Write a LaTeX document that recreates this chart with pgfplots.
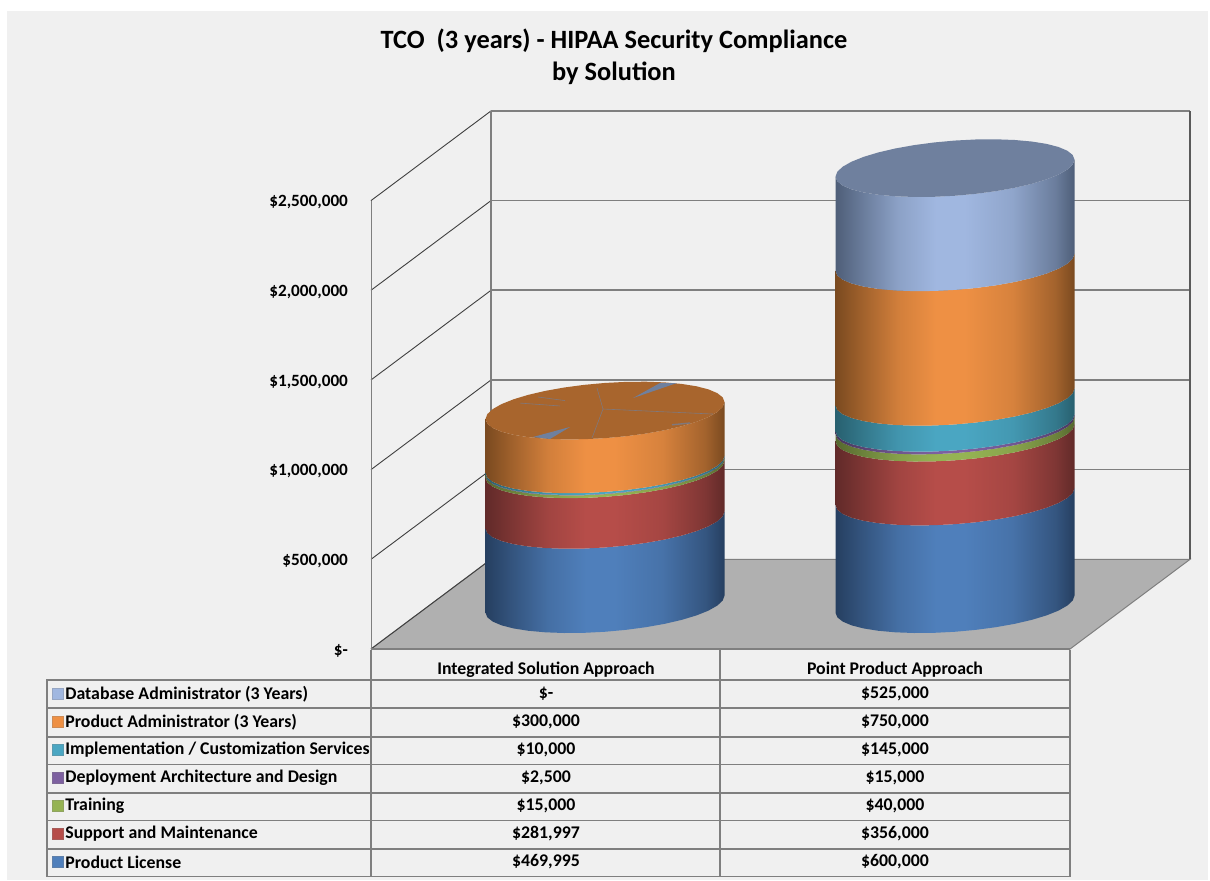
\documentclass[border=0pt]{standalone}
\usepackage{fontspec}
\usepackage{pgfplots}
\usepackage{pgfplotstable}
\pgfplotsset{compat=1.18}
\setmainfont{Carlito}
\definecolor{panel}{HTML}{F0F0F0}
\definecolor{gridc}{HTML}{7F7F7F}
\definecolor{cBlue}{HTML}{4F7FBB}\definecolor{dBlue}{HTML}{263F60}
\definecolor{cRed}{HTML}{B64D49}\definecolor{dRed}{HTML}{612A29}
\definecolor{cGreen}{HTML}{95B353}\definecolor{dGreen}{HTML}{56682F}
\definecolor{cPurple}{HTML}{7D60A0}\definecolor{dPurple}{HTML}{47365C}
\definecolor{cTeal}{HTML}{4AA6C2}\definecolor{dTeal}{HTML}{28606F}
\definecolor{cOrange}{HTML}{EE9044}\definecolor{dOrange}{HTML}{7A4A20}
\definecolor{cLight}{HTML}{A0B7E0}\definecolor{dLight}{HTML}{4E5E78}
\definecolor{tOrange}{HTML}{A8652D}
\definecolor{tLight}{HTML}{6F809E}
\newcommand\declshade[1]{%
  \pgfdeclarehorizontalshading{sh#1}{100bp}{color(0bp)=(d#1); color(25bp)=(d#1);
    color(30bp)=(d#1!70!c#1); color(38bp)=(d#1!25!c#1); color(46bp)=(c#1); color(52bp)=(c#1);
    color(62bp)=(d#1!20!c#1); color(71bp)=(d#1!65!c#1); color(75bp)=(d#1); color(100bp)=(d#1)}}
\declshade{Blue}\declshade{Red}\declshade{Green}\declshade{Purple}\declshade{Teal}\declshade{Orange}\declshade{Light}
% unit circle: front half, lower rim (f=0) then upper rim (f=1)
\pgfplotstableread{
c s f
-1 0 0
-0.9848 -0.1736 0
-0.9397 -0.3420 0
-0.8660 -0.5 0
-0.7660 -0.6428 0
-0.6428 -0.7660 0
-0.5 -0.8660 0
-0.3420 -0.9397 0
-0.1736 -0.9848 0
0 -1 0
0.1736 -0.9848 0
0.3420 -0.9397 0
0.5 -0.8660 0
0.6428 -0.7660 0
0.7660 -0.6428 0
0.8660 -0.5 0
0.9397 -0.3420 0
0.9848 -0.1736 0
1 0 0
1 0 1
0.9848 -0.1736 1
0.9397 -0.3420 1
0.8660 -0.5 1
0.7660 -0.6428 1
0.6428 -0.7660 1
0.5 -0.8660 1
0.3420 -0.9397 1
0.1736 -0.9848 1
0 -1 1
-0.1736 -0.9848 1
-0.3420 -0.9397 1
-0.5 -0.8660 1
-0.6428 -0.7660 1
-0.7660 -0.6428 1
-0.8660 -0.5 1
-0.9397 -0.3420 1
-0.9848 -0.1736 1
-1 0 1
}\cylOutline
\pgfplotstableread{
c s
1 0
0.9848 0.1736
0.9397 0.3420
0.8660 0.5
0.7660 0.6428
0.6428 0.7660
0.5 0.8660
0.3420 0.9397
0.1736 0.9848
0 1
-0.1736 0.9848
-0.3420 0.9397
-0.5 0.8660
-0.6428 0.7660
-0.7660 0.6428
-0.8660 0.5
-0.9397 0.3420
-0.9848 0.1736
-1 0
-0.9848 -0.1736
-0.9397 -0.3420
-0.8660 -0.5
-0.7660 -0.6428
-0.6428 -0.7660
-0.5 -0.8660
-0.3420 -0.9397
-0.1736 -0.9848
0 -1
0.1736 -0.9848
0.3420 -0.9397
0.5 -0.8660
0.6428 -0.7660
0.7660 -0.6428
0.8660 -0.5
0.9397 -0.3420
0.9848 -0.1736
}\cylRing
% floor offset of a cylinder's axis, ellipse half height, ellipse tilt (px)
\newcommand\cylOff{250000}
\newcommand\cylB{27.6}
\newcommand\cylT{8.5}
\newcommand\seg[4]{%
  \addplot[draw=none,shading=sh#4] table[x expr={#1+119.5*\thisrow{c}},
    y expr={\cylOff+#2+(#3-#2)*\thisrow{f}+(\cylB*\thisrow{s}+\cylT*\thisrow{c})*5575}] {\cylOutline};}
\newcommand\topcap[3]{%
  \addplot[draw=none,fill=#3] table[x expr={#1+119.5*\thisrow{c}},
    y expr={\cylOff+#2+(\cylB*\thisrow{s}+\cylT*\thisrow{c})*5575}] {\cylRing};}
\newcommand\gridlevel[2]{%
  \addplot[black!75,line width=0.45pt] coordinates {(371,#1) (491,#2)};
  \addplot[gridc,line width=0.8pt] coordinates {(491,#2) (1190,#2)};}
\newcommand\rowtxt[4]{%
  \node[anchor=west,inner xsep=0pt,font=\fontsize{8.9}{9}\selectfont\bfseries] at (axis cs:65,#1) {#2};
  \node[font=\fontsize{8.9}{9}\selectfont\bfseries] at (axis cs:546,#1) {#3};
  \node[font=\fontsize{8.9}{9}\selectfont\bfseries] at (axis cs:895,#1) {#4};}
\newcommand\swatch[3]{%
  \fill[#3,draw=#3!70!gray,line width=0.3pt] (axis cs:52,#1) rectangle (axis cs:63,#2);}
\begin{document}
\begin{tikzpicture}
% page layer, in pixels of the reference
\begin{axis}[at={(0pt,0pt)},anchor=south west,scale only axis,width=605pt,height=440pt,
  xmin=0,xmax=1210,ymin=0,ymax=880,y dir=reverse,hide axis,clip=false]
\fill[white] (axis cs:0,0) rectangle (axis cs:1210,880);
\fill[panel] (axis cs:7,11) rectangle (axis cs:1208,880);
\node[font=\fontsize{13.2}{16}\selectfont\bfseries,align=center] at (axis cs:614,57)
  {TCO\ \ (3 years) - HIPAA Security Compliance\\by Solution};
\draw[gridc,line width=0.6pt] (axis cs:47,680) rectangle (axis cs:1070,876.5);
\draw[gridc,line width=0.6pt] (axis cs:371,650) -- (axis cs:371,876.5);
\draw[gridc,line width=0.6pt] (axis cs:720,650) -- (axis cs:720,876.5);
\draw[gridc,line width=0.6pt] (axis cs:1070,650) -- (axis cs:1070,680);
\draw[gridc,line width=0.6pt] (axis cs:47,708) -- (axis cs:1070,708);
\draw[gridc,line width=0.6pt] (axis cs:47,737) -- (axis cs:1070,737);
\draw[gridc,line width=0.6pt] (axis cs:47,764.5) -- (axis cs:1070,764.5);
\draw[gridc,line width=0.6pt] (axis cs:47,793) -- (axis cs:1070,793);
\draw[gridc,line width=0.6pt] (axis cs:47,820.5) -- (axis cs:1070,820.5);
\draw[gridc,line width=0.6pt] (axis cs:47,849) -- (axis cs:1070,849);
\node[font=\fontsize{8.9}{9}\selectfont\bfseries] at (axis cs:546,670) {Integrated Solution Approach};
\node[font=\fontsize{8.9}{9}\selectfont\bfseries] at (axis cs:895,670) {Point Product Approach};
\swatch{688}{699}{cLight}\swatch{716}{727}{cOrange}\swatch{744}{755}{cTeal}\swatch{772}{783}{cPurple}\swatch{800}{811}{cGreen}\swatch{828}{839}{cRed}\swatch{856}{867}{cBlue}
\rowtxt{694}{Database Administrator (3 Years)}{\$-}{\$525,000}
\rowtxt{722}{Product Administrator (3 Years)}{\$300,000}{\$750,000}
\rowtxt{750}{Implementation / Customization Services}{\$10,000}{\$145,000}
\rowtxt{778}{Deployment Architecture and Design}{\$2,500}{\$15,000}
\rowtxt{806}{Training}{\$15,000}{\$40,000}
\rowtxt{834}{Support and Maintenance}{\$281,997}{\$356,000}
\rowtxt{862}{Product License}{\$469,995}{\$600,000}
\end{axis}
% chart layer: x in pixels, y in dollars
\begin{axis}[at={(185.5pt,115.5pt)},anchor=south west,scale only axis,width=409.5pt,height=224.2pt,
  xmin=371,xmax=1190,ymin=0,ymax=2500000,clip=false,
  axis line style={draw=none},xtick=\empty,major tick length=0pt,
  ytick={0,500000,1000000,1500000,2000000,2500000},
  yticklabels={{\$-\hspace{3pt}},{\$500,000},{\$1,000,000},{\$1,500,000},{\$2,000,000},{\$2,500,000}},
  yticklabel style={font=\fontsize{8.6}{9}\selectfont\bfseries,anchor=east,xshift=-8pt,yshift=-0.9pt},
  scaled y ticks=false]
\addplot[fill=black!31,draw=gridc,line width=0.5pt] coordinates {(371,0) (491,500000) (1190,500000) (1070,0) (371,0)};
\gridlevel{0}{500000}\gridlevel{500000}{1000000}\gridlevel{1000000}{1500000}\gridlevel{1500000}{2000000}\gridlevel{2000000}{2500000}\gridlevel{2500000}{3000000}
\addplot[gridc,line width=0.4pt] coordinates {(371,0) (371,2500000)};
\addplot[gridc,line width=0.8pt] coordinates {(491,500000) (491,3000000)};
\addplot[black!65,line width=0.8pt] coordinates {(1190,500000) (1190,3000000)};
\addplot[gridc,line width=0.8pt] coordinates {(371,0) (1070,0)};
% Integrated Solution Approach: cumulative stack
\seg{605}{0}{469995}{Blue}
\seg{605}{469995}{751992}{Red}
\seg{605}{751992}{766992}{Green}
\seg{605}{766992}{769492}{Purple}
\seg{605}{769492}{779492}{Teal}
\seg{605}{779492}{1079492}{Orange}
\topcap{605}{1079492}{tOrange}
\addplot[fill=tLight,draw=none] coordinates {(633,1399000) (660,1483000) (677,1483000) (633,1399000)};
\addplot[fill=tLight,draw=none] coordinates {(533,1182000) (570,1238000) (550,1171000) (533,1182000)};
\addplot[tLight!70!tOrange,line width=0.3pt] coordinates {(592,1176000) (603,1338000) (713,1310000)};
\addplot[tLight!70!tOrange,line width=0.3pt] coordinates {(597,1455000) (603,1338000)};
\addplot[tLight!70!tOrange,line width=0.3pt] coordinates {(520,1371000) (560,1355000)};
\addplot[tLight!70!tOrange,line width=0.3pt] coordinates {(538,1405000) (565,1385000)};
\addplot[tLight!70!tOrange,line width=0.7pt] coordinates {(672,1250000) (690,1260000)};
% Point Product Approach: cumulative stack
\seg{955}{0}{600000}{Blue}
\seg{955}{600000}{956000}{Red}
\seg{955}{956000}{996000}{Green}
\seg{955}{996000}{1011000}{Purple}
\seg{955}{1011000}{1156000}{Teal}
\seg{955}{1156000}{1906000}{Orange}
\seg{955}{1906000}{2431000}{Light}
\topcap{955}{2431000}{tLight}
\end{axis}
\end{tikzpicture}
\end{document}
